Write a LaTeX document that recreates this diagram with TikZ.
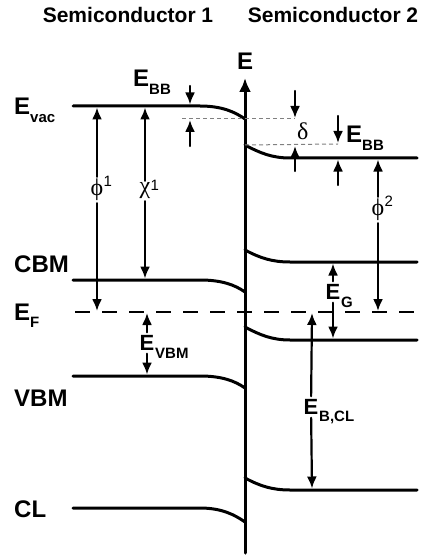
\documentclass[tikz,border=0pt]{standalone}
\usepackage{fontspec}
\setmainfont{Liberation Sans}
\newfontfamily\greekfont{Liberation Serif}
\usetikzlibrary{arrows.meta}
\newcommand{\lsub}[1]{\raisebox{-0.3em}{\fontsize{15}{15}\selectfont #1}}
\tikzset{
  level/.style={line width=3pt},
  gap/.style={-{Latex[length=12pt,width=10pt]},line width=2.2pt},
  guide/.style={gray,line width=1pt,dash pattern=on 4pt off 3pt,line cap=butt},
  lbl/.style={font=\fontsize{24}{24}\selectfont\bfseries,inner sep=0pt},
  elbl/.style={font=\fontsize{22}{22}\selectfont\bfseries,inner sep=3pt},
  glbl/.style={font=\fontsize{24}{24}\selectfont\greekfont,inner sep=2pt},
  subl/.style={font=\fontsize{15}{15}\selectfont\bfseries,inner sep=0.5pt,anchor=west,xshift=-3pt},
  supl/.style={font=\fontsize{15}{15}\selectfont,inner sep=0pt,anchor=north west},
}
\begin{document}
\begin{tikzpicture}[x=1pt,y=-1pt,line join=round,line cap=round]
\useasboundingbox (0,0) rectangle (425,556);
% headings
\node[font=\fontsize{21}{21}\selectfont\bfseries] (sc1) at (128,15) {Semiconductor 1};
\node[font=\fontsize{21}{21}\selectfont\bfseries] (sc2) at (333,15) {Semiconductor 2};
% energy axis
\coordinate (ax0) at (245,553);
\coordinate (ax1) at (245,78);
\draw[line width=3pt,-{Latex[length=14pt,width=12pt]}] (ax0) -- (ax1);
\node[lbl] (E) at (245,61) {E};
% levels of semiconductor 1
\foreach \nm/\y/\d in {vac/106/13,cbm/280/12,vbm/376/12,cl/508/14}{
  \coordinate (\nm L) at (73,\y);
  \coordinate (\nm Lb) at (200,\y);
  \coordinate (\nm Li) at (245,\y+\d);
  \draw[level] (\nm L) -- (\nm Lb) .. controls +(22,0) and +(-10,-7) .. (\nm Li);
}
% levels of semiconductor 2
\foreach \nm/\y/\d in {vac/158/13,cbm/262/12,vbm/340/13,cl/490/12}{
  \coordinate (\nm Ri) at (245,\y-\d);
  \coordinate (\nm Rb) at (290,\y);
  \coordinate (\nm R) at (417,\y);
  \draw[level] (\nm Ri) .. controls +(15,8) and +(-18,0) .. (\nm Rb) -- (\nm R);
}
% Fermi level
\coordinate (efL) at (75,312);
\coordinate (efR) at (417,312);
\draw[line width=2pt,line cap=butt,dash pattern=on 15pt off 12pt] (efL) -- (efR);
% level names
\node[lbl,anchor=base west] (Evac) at (14,115) {E\lsub{vac}};
\node[lbl,anchor=base west] (CBM) at (14,272) {CBM};
\node[lbl,anchor=base west] (EF) at (14,320) {E\lsub{F}};
\node[lbl,anchor=base west] (VBM) at (14,406) {VBM};
\node[lbl,anchor=base west] (CL) at (14,517) {CL};
% band bending and offset
\coordinate (ebbLa) at (190,86);
\coordinate (ebbLt) at (190,104.5);
\coordinate (ebbLc) at (190,146);
\coordinate (ebbLd) at (190,120);
\draw[gap] (ebbLa) -- (ebbLt);
\draw[gap] (ebbLc) -- (ebbLd);
\node[lbl,anchor=base west] (EbbL) at (133,87) {E\lsub{BB}};
\coordinate (g1a) at (182,119);
\coordinate (g1b) at (295,119);
\draw[guide] (g1a) -- (g1b);
\coordinate (g2b) at (338,144);
\draw[guide] (vacRi) -- (g2b);
\coordinate (dla) at (295,91);
\coordinate (dlt) at (295,118);
\coordinate (dlc) at (295,171);
\coordinate (dld) at (295,146);
\draw[gap] (dla) -- (dlt);
\draw[gap] (dlc) -- (dld);
\node[font=\fontsize{24}{24}\selectfont\greekfont,inner sep=0pt,anchor=base west] (delta) at (297,140) {δ};
\coordinate (ebbRa) at (338,116);
\coordinate (ebbRt) at (338,143);
\coordinate (ebbRc) at (338,185);
\coordinate (ebbRd) at (338,159.5);
\draw[gap] (ebbRa) -- (ebbRt);
\draw[gap] (ebbRc) -- (ebbRd);
\node[lbl,anchor=base west] (EbbR) at (346,143) {E\lsub{BB}};
% work functions and electron affinity
\coordinate (phiAt) at (97,107.5);
\coordinate (phiAb) at (97,311);
\node[glbl,label={[supl,xshift=-2pt,yshift=1pt]north east:1}] (phiA) at (97,190) {ϕ};
\draw[gap] (phiA) -- (phiAt);
\draw[gap] (phiA) -- (phiAb);
\coordinate (chiAt) at (145,107.5);
\coordinate (chiAb) at (145,278.5);
\node[glbl,label={[supl,xshift=-2pt,yshift=1pt]north east:1}] (chiA) at (145,191) {χ};
\draw[gap] (chiA) -- (chiAt);
\draw[gap] (chiA) -- (chiAb);
\coordinate (phiBt) at (378,159.5);
\coordinate (phiBb) at (378,311);
\node[glbl,label={[supl,xshift=-2pt,yshift=1pt]north east:2}] (phiB) at (378,210) {ϕ};
\draw[gap] (phiB) -- (phiBt);
\draw[gap] (phiB) -- (phiBb);
% valence band, gap and core level energies
\coordinate (vbmt) at (147,313);
\coordinate (vbmb) at (147,374.5);
\node[elbl,label={[subl]south east:VBM}] (Evbm) at (147,343) {E};
\draw[gap] (Evbm) -- (vbmt);
\draw[gap] (Evbm) -- (vbmb);
\coordinate (egt) at (333,263.5);
\coordinate (egb) at (333,338.5);
\node[elbl,label={[subl]south east:G}] (Eg) at (333,292) {E};
\draw[gap] (Eg) -- (egt);
\draw[gap] (Eg) -- (egb);
\coordinate (clt) at (312,313);
\coordinate (clb) at (312,488.5);
\node[elbl,label={[subl]south east:B,CL}] (Ecl) at (311,407) {E};
\draw[gap] (Ecl) -- (clt);
\draw[gap] (Ecl) -- (clb);
\end{tikzpicture}
\end{document}
